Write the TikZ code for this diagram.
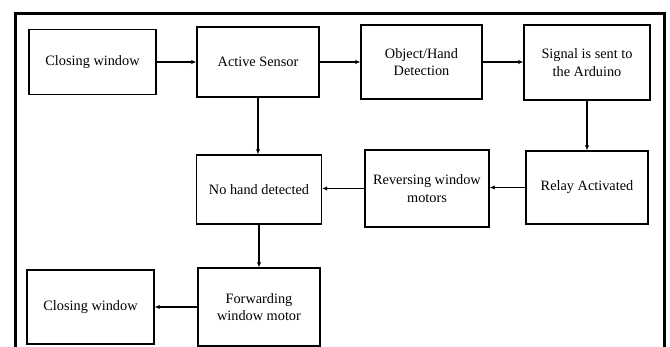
\documentclass[tikz,border=0pt]{standalone}
\usepackage{fontspec}
\setmainfont{Liberation Serif}
\usetikzlibrary{arrows.meta}
\begin{document}
\begin{tikzpicture}[x={(1pt,0)}, y={(0,-1pt)},
  box/.style={draw, line width=1.4pt, align=center, inner sep=2pt,
    font=\fontsize{14.3}{17.5}\selectfont},
  arr/.style={line width=1.3pt, -{Latex[length=5pt,width=4.5pt]}}]
\useasboundingbox (0,0) rectangle (670,347);
\fill[white] (0,0) rectangle (670,347);
% frame
\draw[line width=3pt] (15,349) -- (15,14) -- (664,14) -- (664,349);
% boxes
\node[box, minimum width=127pt, minimum height=65pt] (b1) at (92.5,62) {Closing window};
\node[box, minimum width=122pt, minimum height=70pt] (b2) at (258,62) {Active Sensor};
\node[box, minimum width=121pt, minimum height=74pt] (b3) at (421.5,62) {Object/Hand\\Detection};
\node[box, minimum width=126pt, minimum height=75pt] (b4) at (587,62.5) {Signal is sent to\\the Arduino};
\node[box, minimum width=122pt, minimum height=73pt] (b5) at (587,187.5) {Relay Activated};
\node[box, minimum width=124pt, minimum height=77pt] (b6) at (427,188.5) {Reversing window\\motors};
\node[box, minimum width=125pt, minimum height=69pt] (b7) at (259,189.5) {No hand detected};
\node[box, minimum width=122pt, minimum height=78pt] (b8) at (259,307) {Forwarding\\window motor};
\node[box, minimum width=127pt, minimum height=74pt] (b9) at (90.5,307) {Closing window};
% connectors
\draw[arr] (b1.east) -- (b1.east -| b2.west);
\draw[arr] (b2.east) -- (b2.east -| b3.west);
\draw[arr] (b3.east) -- (b3.east -| b4.west);
\draw[arr] (b4.south) -- (b5.north);
\draw[arr] (b5.west) -- (b5.west -| b6.east);
\draw[arr] (b6.west) -- (b6.west -| b7.east);
\draw[arr] (b2.south) -- (b2.south |- b7.north);
\draw[arr] (b7.south) -- (b8.north);
\draw[arr] (b8.west) -- (b8.west -| b9.east);
\end{tikzpicture}
\end{document}
